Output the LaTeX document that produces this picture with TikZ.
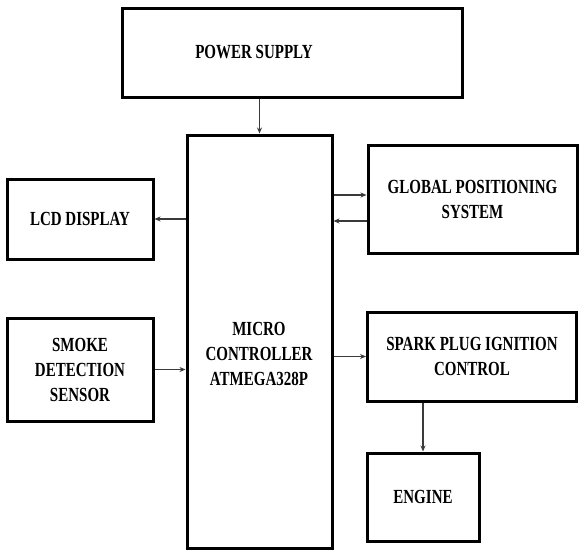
\documentclass[tikz,border=0pt]{standalone}
\usepackage{fontspec}
\setmainfont{Liberation Serif}[FakeStretch=0.75]
\usetikzlibrary{arrows.meta,positioning,calc}
\definecolor{wiregray}{HTML}{3A3A3A}

\begin{document}
\begin{tikzpicture}[x=1pt, y=-1pt,
  block/.style={draw=black, line width=3pt, fill=white, inner sep=0pt,
    align=center, font=\fontsize{20}{25}\selectfont\bfseries},
  blocktext/.style={align=center, inner sep=0pt, font=\fontsize{20}{25}\selectfont\bfseries},
  arr/.style={-{Stealth[length=6pt, width=5pt]}, line width=1.3pt, wiregray}]
  \useasboundingbox (0,0) rectangle (581,550);

  % blocks
  \node[block, minimum width=340pt, minimum height=89pt] (power) at (292,52.5) {};
  \node[blocktext] (powertxt) at (254,52.5) {POWER SUPPLY};
  \node[block, minimum width=145pt, minimum height=413pt] (micro) at (259.5,341.5) {};
  \node[blocktext] (microtxt) at (259,354) {MICRO\\CONTROLLER\\ATMEGA328P};
  \node[block, minimum width=146pt, minimum height=80pt] (lcd) at (80,219) {LCD DISPLAY};
  \node[block, minimum width=146pt, minimum height=103pt] (smoke) at (80,369.5) {SMOKE\\DETECTION\\SENSOR};
  \node[block, minimum width=209pt, minimum height=108pt] (gps) at (472.5,199) {GLOBAL POSITIONING\\SYSTEM};
  \node[block, minimum width=209pt, minimum height=89pt] (spark) at (472,356.5) {SPARK PLUG IGNITION\\CONTROL};
  \node[block, minimum width=112pt, minimum height=88pt] (engine) at (423,497) {ENGINE};

  % connectors
  \coordinate (gpsin) at ($(gps.west)+(0,-4)$);
  \coordinate (gpsout) at ($(gps.west)+(0,22)$);
  \draw[arr] (micro.north |- power.south) -- (micro.north);
  \draw[arr] (micro.west |- lcd.east) -- (lcd.east);
  \draw[arr] (smoke.east) -- (smoke.east -| micro.west);
  \draw[arr] (micro.east |- gpsin) -- (gpsin);
  \draw[arr] (gpsout) -- (micro.east |- gpsout);
  \draw[arr] (micro.east |- spark.west) -- (spark.west);
  \draw[arr] (spark.south -| engine.north) -- (engine.north);
\end{tikzpicture}
\end{document}
